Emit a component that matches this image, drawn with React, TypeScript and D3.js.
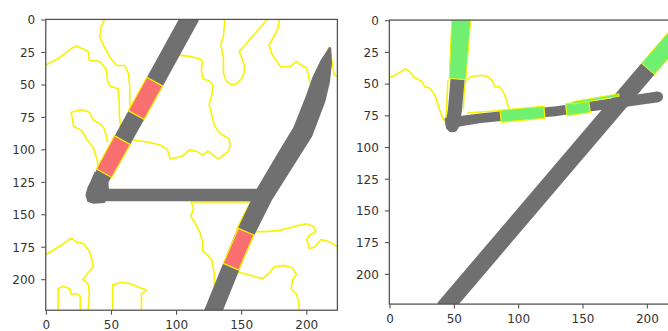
import React from 'react';
import * as d3 from 'd3';

type P = [number, number];
type W = [number, number, number]; // x, y (image pixels), stroke thickness (image pixels)

// ---------- shared axis data ----------
const xTicks = [0, 50, 100, 150, 200];
const yTicks = [0, 25, 50, 75, 100, 125, 150, 175, 200];
const imgExtent: P = [-0.5, 223.5];

// ---------- panel 1: digit "4" ----------
const fourStrokeA: W[] = [[111, -3, 14], [77, 59, 14], [47, 113, 13.5], [40, 126, 12]];
const fourBlob: P[] = [[37, 117], [47, 118], [48, 130], [45, 141], [36, 141.5], [31.5, 140], [30, 135], [31.5, 129], [34, 124]];
const fourBar: W[] = [[38, 134.8, 9.5], [167, 134.8, 9.5]];
const fourStrokeB: W[] = [[218, 21, 1.5], [215, 32, 9], [211, 46, 14], [207, 60, 15.5], [197, 86, 16], [184, 107, 15.5], [167, 135, 14.5], [150, 170, 13.5], [127, 227, 13.5]];
const fourRed: W[][] = [
  [[83.2, 47.5, 14], [69, 73.2, 14]],
  [[58.3, 92.5, 14], [44.3, 118, 13.5]],
  [[153.4, 163, 13], [141.8, 190, 13]],
];
const fourContours: P[][] = [
  [[-1, 35], [10, 29], [19, 22], [23, 20], [32, 24], [33, 31], [41, 32], [46, 38], [47, 47], [49, 51], [55, 53], [56, 63], [56, 73], [57, 83], [53, 92]],
  [[45, -1], [42, 5], [41, 13], [44, 20], [49, 29], [54, 35], [60, 35], [63, 41], [64, 51], [64, 62], [65, 72]],
  [[47, 94], [46, 89], [44, 83], [41, 80], [36, 77], [33, 71], [27, 69], [19, 71], [21, 82], [27, 85], [31, 92], [36, 98], [39, 108], [40, 116], [42, 119]],
  [[65, 92], [77, 94], [87, 96], [93, 100], [95, 107], [104, 105], [110, 100], [115, 101], [120, 104], [124, 101], [128, 104], [132, 107], [136, 104], [140, 101], [141, 96], [140, 91], [136, 89], [132, 86], [129, 81], [127, 73], [125, 65], [127, 58], [128, 50], [125, 47], [120, 45], [119, 38], [120, 32], [118, 30], [110, 28], [102, 27], [96, 28], [92, 32]],
  [[136, -1], [137, 1], [136, 12], [134, 19], [136, 29], [136, 41], [138, 47], [142, 50], [146, 49], [150, 45], [152, 40], [152, 35], [150, 29], [148, 24], [152, 20], [157, 14], [164, 6], [170, -1]],
  [[179, -1], [178, 6], [174, 14], [171, 19], [173, 26], [177, 32], [180, 36], [187, 36], [192, 32], [196, 35], [200, 37], [201, 41], [202, 47], [204, 51], [208, 43], [212, 33], [217, 21], [219, 30], [221, 42], [224, 44]],
  [[111, 140], [113, 145], [111, 151], [115, 158], [118, 164], [120, 171], [120, 178], [124, 181], [127, 185], [129, 195], [129, 205]],
  [[111, 140.2], [157, 140.2], [151, 151], [146, 162]],
  [[158, 163], [169, 163], [179, 162], [187, 160], [194, 158], [200, 157], [205, 159], [207, 163], [202, 166], [200, 169], [202, 176], [206, 175], [211, 169], [218, 171], [224, 175]],
  [[147, 194], [155, 196], [161, 198], [166, 199], [171, 195], [175, 190], [183, 189], [189, 191], [192, 196], [189, 200], [188, 207], [192, 211], [194, 218], [194, 224]],
  [[-1, 181], [9, 175], [19, 168], [23, 171], [28, 172], [33, 178], [35, 185], [36, 190], [31, 196], [28, 200], [32, 203], [33, 211], [32, 224]],
  [[9, 224], [9, 207], [13, 205], [18, 207], [19, 211], [24, 211], [26, 213], [26, 224]],
  [[51, 224], [51, 204], [58, 202], [64, 203], [69, 205], [74, 207], [77, 208], [73, 211], [73, 224]],
];

// ---------- panel 2: digit "7" ----------
const sevenStemGreen: W[] = [[55.5, -3, 15], [52.5, 46, 13]];
const sevenStem: W[] = [[52.5, 46, 11], [50.5, 70, 11], [48.5, 83, 11]];
const sevenBar: W[] = [[43, 81, 8.5], [70, 77, 7.5], [100, 74, 7.5], [128, 71.5, 7.5], [145, 69, 7.5], [175, 65, 8], [208, 60, 8.5]];
const sevenDiag: W[] = [[41.8, 227, 13.5], [200.5, 38, 13.5]];
const sevenDiagGreen: W[] = [[200.5, 38, 13.5], [238, -6, 13.5]];
const sevenBarGreen: W[][] = [
  [[86, 75.4, 9.5], [100, 74, 9.5], [120, 72.2, 9.5]],
  [[137, 70.2, 9.5], [155, 67.7, 9.5]],
];
const sevenSliver: W[] = [[142, 64.8, 2], [178, 58.6, 2]];
const sevenContours: P[][] = [
  [[-1, 45], [4, 43], [12, 38], [15, 40], [19, 45], [25, 48], [27, 52], [31, 53], [35, 59], [37, 65], [39, 72], [41, 77], [43.5, 80], [44, 70], [44.5, 58], [45, 47]],
  [[57, 70], [57.5, 58], [58.5, 48], [63, 44], [71, 43], [76, 44], [80, 48], [81, 52], [85, 52], [88, 56], [90, 61], [92, 68], [93, 71], [86, 70.8], [60, 72.8]],
];

// ---------- colours ----------
const GRAY = '#6f6f6f';
const RED = '#fa7070';
const GREEN = '#70ef70';
const YELLOW = '#f7f200';
const AXIS = '#555';
const TEXT = '#333';

type Scale = d3.ScaleLinear<number, number>;

function ribbon(pts: W[], sx: Scale, sy: Scale, k: number): string {
  const Q = pts.map(([x, y, w]) => [sx(x), sy(y), w * k] as [number, number, number]);
  const n = Q.length;
  const left: P[] = [];
  const right: P[] = [];
  for (let i = 0; i < n; i++) {
    const a = Q[Math.max(0, i - 1)];
    const b = Q[Math.min(n - 1, i + 1)];
    let dx = b[0] - a[0];
    let dy = b[1] - a[1];
    const L = Math.hypot(dx, dy) || 1;
    dx /= L;
    dy /= L;
    const h = Q[i][2] / 2;
    left.push([Q[i][0] - dy * h, Q[i][1] + dx * h]);
    right.push([Q[i][0] + dy * h, Q[i][1] - dx * h]);
  }
  return (d3.line()([...left, ...right.reverse()]) || '') + 'Z';
}

function polyline(pts: P[], sx: Scale, sy: Scale, closed = false): string {
  const s = d3.line()(pts.map(([x, y]) => [sx(x), sy(y)] as P)) || '';
  return closed ? s + 'Z' : s;
}

function Axes({ sx, sy, id }: { sx: Scale; sy: Scale; id: string }) {
  const [x0, x1] = sx.range();
  const [y0, y1] = sy.range();
  return (
    <g>
      <rect x={x0} y={y0} width={x1 - x0} height={y1 - y0} fill="none" stroke={AXIS} strokeWidth={1.3} />
      {yTicks.map((t) => (
        <g key={id + 'y' + t}>
          <line x1={x0 - 4.5} x2={x0} y1={sy(t)} y2={sy(t)} stroke={AXIS} strokeWidth={1.1} />
          <text x={x0 - 10.5} y={sy(t)} dy="0.36em" textAnchor="end" fontSize={12} fill={TEXT} fontFamily="DejaVu Sans">
            {t}
          </text>
        </g>
      ))}
      {xTicks.map((t) => (
        <g key={id + 'x' + t}>
          <line x1={sx(t)} x2={sx(t)} y1={y1} y2={y1 + 4.5} stroke={AXIS} strokeWidth={1.1} />
          <text x={sx(t)} y={y1 + 18.5} textAnchor="middle" fontSize={12} fill={TEXT} fontFamily="DejaVu Sans">
            {t}
          </text>
        </g>
      ))}
    </g>
  );
}

export default function App() {
  const xL = d3.scaleLinear().domain(imgExtent).range([45.75, 337.4]);
  const yL = d3.scaleLinear().domain(imgExtent).range([19.4, 310.2]);
  const kL = 1.3;
  const xR = d3.scaleLinear().domain(imgExtent).range([389.36, 677.6]);
  const yR = d3.scaleLinear().domain(imgExtent).range([20.07, 304.1]);
  const kR = 1.28;

  const clipRect = (sx: Scale, sy: Scale) => {
    const [a, b] = sx.range();
    const [c, d] = sy.range();
    return <rect x={a} y={c} width={b - a} height={d - c} />;
  };

  return (
    <svg width={668} height={331} style={{ position: 'absolute', left: 0, top: 0, background: '#fff' }}>
      <defs>
        <clipPath id="clipL">{clipRect(xL, yL)}</clipPath>
        <clipPath id="clipR">{clipRect(xR, yR)}</clipPath>
        <filter id="soft" x="-5%" y="-5%" width="110%" height="110%">
          <feGaussianBlur stdDeviation={0.45} />
        </filter>
      </defs>
      <rect x={0} y={0} width={668} height={331} fill="#fff" />

      {/* Panel 1 */}
      <g clipPath="url(#clipL)">
        <g filter="url(#soft)">
          {fourContours.map((c, i) => (
            <path key={'c4' + i} d={polyline(c, xL, yL)} fill="none" stroke={YELLOW} strokeWidth={1.6} strokeLinejoin="round" />
          ))}
          <path d={ribbon(fourStrokeA, xL, yL, kL)} fill={GRAY} />
          <path d={ribbon(fourBar, xL, yL, kL)} fill={GRAY} />
          <path d={polyline(fourBlob, xL, yL, true)} fill={GRAY} />
          <path d={ribbon(fourStrokeB, xL, yL, kL)} fill={GRAY} />
          {fourRed.map((s, i) => (
            <path key={'r' + i} d={ribbon(s, xL, yL, kL)} fill={RED} stroke={YELLOW} strokeWidth={1.3} />
          ))}
        </g>
      </g>
      <Axes sx={xL} sy={yL} id="L" />

      {/* Panel 2 */}
      <g clipPath="url(#clipR)">
        <g filter="url(#soft)">
          {sevenContours.map((c, i) => (
            <path key={'c7' + i} d={polyline(c, xR, yR)} fill="none" stroke={YELLOW} strokeWidth={1.6} strokeLinejoin="round" />
          ))}
          <path d={ribbon(sevenDiag, xR, yR, kR)} fill={GRAY} />
          <path d={ribbon(sevenStem, xR, yR, kR)} fill={GRAY} />
          <path d={ribbon(sevenBar, xR, yR, kR)} fill={GRAY} />
          <circle cx={xR(sevenBar[sevenBar.length - 1][0])} cy={yR(sevenBar[sevenBar.length - 1][1])} r={4.2 * kR} fill={GRAY} />
          <circle cx={xR(sevenStem[sevenStem.length - 1][0])} cy={yR(sevenStem[sevenStem.length - 1][1])} r={5 * kR} fill={GRAY} />
          <path d={ribbon(sevenStemGreen, xR, yR, kR)} fill={GREEN} stroke={YELLOW} strokeWidth={1} />
          <path d={ribbon(sevenDiagGreen, xR, yR, kR)} fill={GREEN} stroke={YELLOW} strokeWidth={1} />
          {sevenBarGreen.map((s, i) => (
            <path key={'g' + i} d={ribbon(s, xR, yR, kR)} fill={GREEN} stroke={YELLOW} strokeWidth={1.2} />
          ))}
          <path d={ribbon(sevenSliver, xR, yR, kR)} fill={GREEN} stroke={YELLOW} strokeWidth={0.9} />
        </g>
      </g>
      <Axes sx={xR} sy={yR} id="R" />
    </svg>
  );
}
